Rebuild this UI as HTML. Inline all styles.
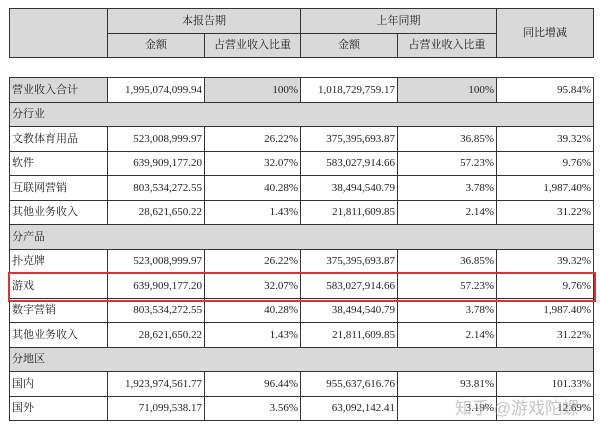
<!DOCTYPE html>
<html><head><meta charset="utf-8"><style>
body{margin:0;width:600px;height:428px;background:#fff;position:relative;overflow:hidden;font-family:"Liberation Serif","Noto Serif CJK SC",serif;font-size:11px;color:#222}
table{position:absolute;left:9px;width:584px;border-collapse:collapse;table-layout:fixed}
td{border:1.5px solid #333;padding:0 2px;white-space:nowrap;overflow:hidden;line-height:12px}
.g{background:#d9d9d9}
.r{text-align:right}
.c{text-align:center}
#hdr{top:8px}
#hdr tr{height:24.5px}
#body{top:77px}
#body tr{height:24.5px}
</style></head><body>
<table id="hdr">
<colgroup><col style="width:98px"><col style="width:97px"><col style="width:96px"><col style="width:97px"><col style="width:99px"><col style="width:97px"></colgroup>
<tr><td class="g" rowspan="2"></td><td class="g c" colspan="2">本报告期</td><td class="g c" colspan="2">上年同期</td><td class="g c" rowspan="2">同比增减</td></tr>
<tr><td class="g c">金额</td><td class="g c">占营业收入比重</td><td class="g c">金额</td><td class="g c">占营业收入比重</td></tr>
</table>
<table id="body">
<colgroup><col style="width:98px"><col style="width:97px"><col style="width:96px"><col style="width:97px"><col style="width:99px"><col style="width:97px"></colgroup>
<tbody id="tb"></tbody>
</table>
<div style="position:absolute;left:8px;top:272px;width:584px;height:26px;border:2.5px solid #e03030"></div>
<div style="position:absolute;left:455px;top:394px;font-family:'Liberation Sans','Noto Sans CJK SC',sans-serif;font-size:17px;color:rgba(150,150,150,0.55)">知乎 @游戏陀螺</div>
<script>
const rows=[
["营业收入合计","1,995,074,099.94","100%","1,018,729,759.17","100%","95.84%"],
["分行业"],
["文教体育用品","523,008,999.97","26.22%","375,395,693.87","36.85%","39.32%"],
["软件","639,909,177.20","32.07%","583,027,914.66","57.23%","9.76%"],
["互联网营销","803,534,272.55","40.28%","38,494,540.79","3.78%","1,987.40%"],
["其他业务收入","28,621,650.22","1.43%","21,811,609.85","2.14%","31.22%"],
["分产品"],
["扑克牌","523,008,999.97","26.22%","375,395,693.87","36.85%","39.32%"],
["游戏","639,909,177.20","32.07%","583,027,914.66","57.23%","9.76%"],
["数字营销","803,534,272.55","40.28%","38,494,540.79","3.78%","1,987.40%"],
["其他业务收入","28,621,650.22","1.43%","21,811,609.85","2.14%","31.22%"],
["分地区"],
["国内","1,923,974,561.77","96.44%","955,637,616.76","93.81%","101.33%"],
["国外","71,099,538.17","3.56%","63,092,142.41","3.19%","12.69%"]
];
const tb=document.getElementById('tb');
rows.forEach((r,i)=>{
  const tr=document.createElement('tr');
  
  
  if(r.length===1){
    const td=document.createElement('td');td.colSpan=6;td.className='g';td.textContent=r[0];
    
    
    tr.appendChild(td);
  }else{
    r.forEach((v,j)=>{
      const td=document.createElement('td');td.textContent=v;
      td.className=j===0?(i===0?'g':''):'r';
      if(i===0&&(j===2||j===4))td.className='r g';
      
      
      tr.appendChild(td);
    });
  }
  tb.appendChild(tr);
});
</script>
</body></html>
